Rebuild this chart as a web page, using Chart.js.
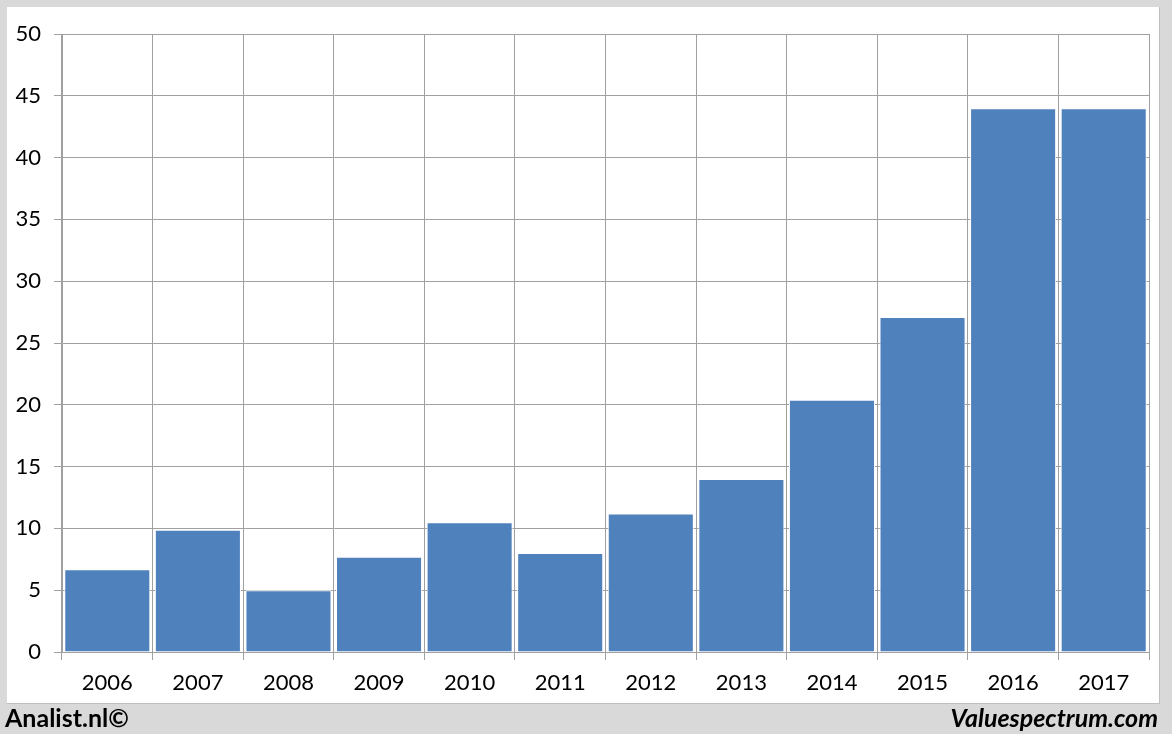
<!DOCTYPE html>
<html>
<head>
<meta charset="utf-8">
<script src="https://cdn.jsdelivr.net/npm/chart.js@4.4.0/dist/chart.umd.min.js"></script>
<style>
  html, body { margin: 0; padding: 0; }
  body { width: 1172px; height: 734px; background: #d9d9d9; position: relative; overflow: hidden; font-family: Lato, "Open Sans", sans-serif; }
  #panel { position: absolute; left: 7px; top: 7px; width: 1152px; height: 696px; background: #ffffff; border-right: 1px solid #bfbfbf; border-bottom: 1px solid #bfbfbf; }
  #wrap { position: absolute; left: 0; top: 0; width: 1172px; height: 734px; }
  .foot { position: absolute; font-weight: bold; font-size: 25px; color: #000; top: 702px; line-height: 30px; }
  #left { left: 5px; }
  #right { right: 14px; font-style: italic; }
</style>
</head>
<body>
<div id="panel"></div>
<div id="wrap"><canvas id="c" width="1172" height="734"></canvas></div>
<div class="foot" id="left">Analist.nl©</div>
<div class="foot" id="right">Valuespectrum.com</div>
<script>
const categories = ["2006","2007","2008","2009","2010","2011","2012","2013","2014","2015","2016","2017"];
const values = [6.7, 9.9, 5.0, 7.7, 10.5, 8.0, 11.2, 14.0, 20.4, 27.1, 44.0, 44.0];
const yTicks = [0, 5, 10, 15, 20, 25, 30, 35, 40, 45, 50];

const gridColor = "#a0a0a0";
new Chart(document.getElementById("c"), {
  type: "bar",
  data: {
    labels: categories,
    datasets: [{
      data: values,
      backgroundColor: "#4f81bd",
      borderColor: "#ffffff",
      borderWidth: 1,
      barPercentage: 0.95,
      categoryPercentage: 1.0
    }]
  },
  options: {
    responsive: false,
    animation: false,
    layout: { padding: { left: 0, right: 23, top: 34, bottom: 0 } },
    plugins: { legend: { display: false }, tooltip: { enabled: false } },
    scales: {
      x: {
        offset: true,
        grid: { offset: true, color: gridColor, lineWidth: 1, drawTicks: true, tickLength: 8 },
        border: { color: gridColor, width: 1 },
        ticks: { color: "#000", font: { family: "Lato", size: 22 }, padding: 10, maxRotation: 0 },
        afterFit: (s) => { s.height = 82; }
      },
      y: {
        min: 0, max: 50,
        afterBuildTicks: (s) => { s.ticks = yTicks.map(v => ({ value: v })); },
        grid: { color: gridColor, lineWidth: 1, drawTicks: true, tickLength: 8 },
        border: { color: gridColor, width: 1 },
        ticks: { color: "#000", font: { family: "Lato", size: 22 }, padding: 13 },
        afterFit: (s) => { s.width = 62; }
      }
    }
  }
});
</script>
</body>
</html>
